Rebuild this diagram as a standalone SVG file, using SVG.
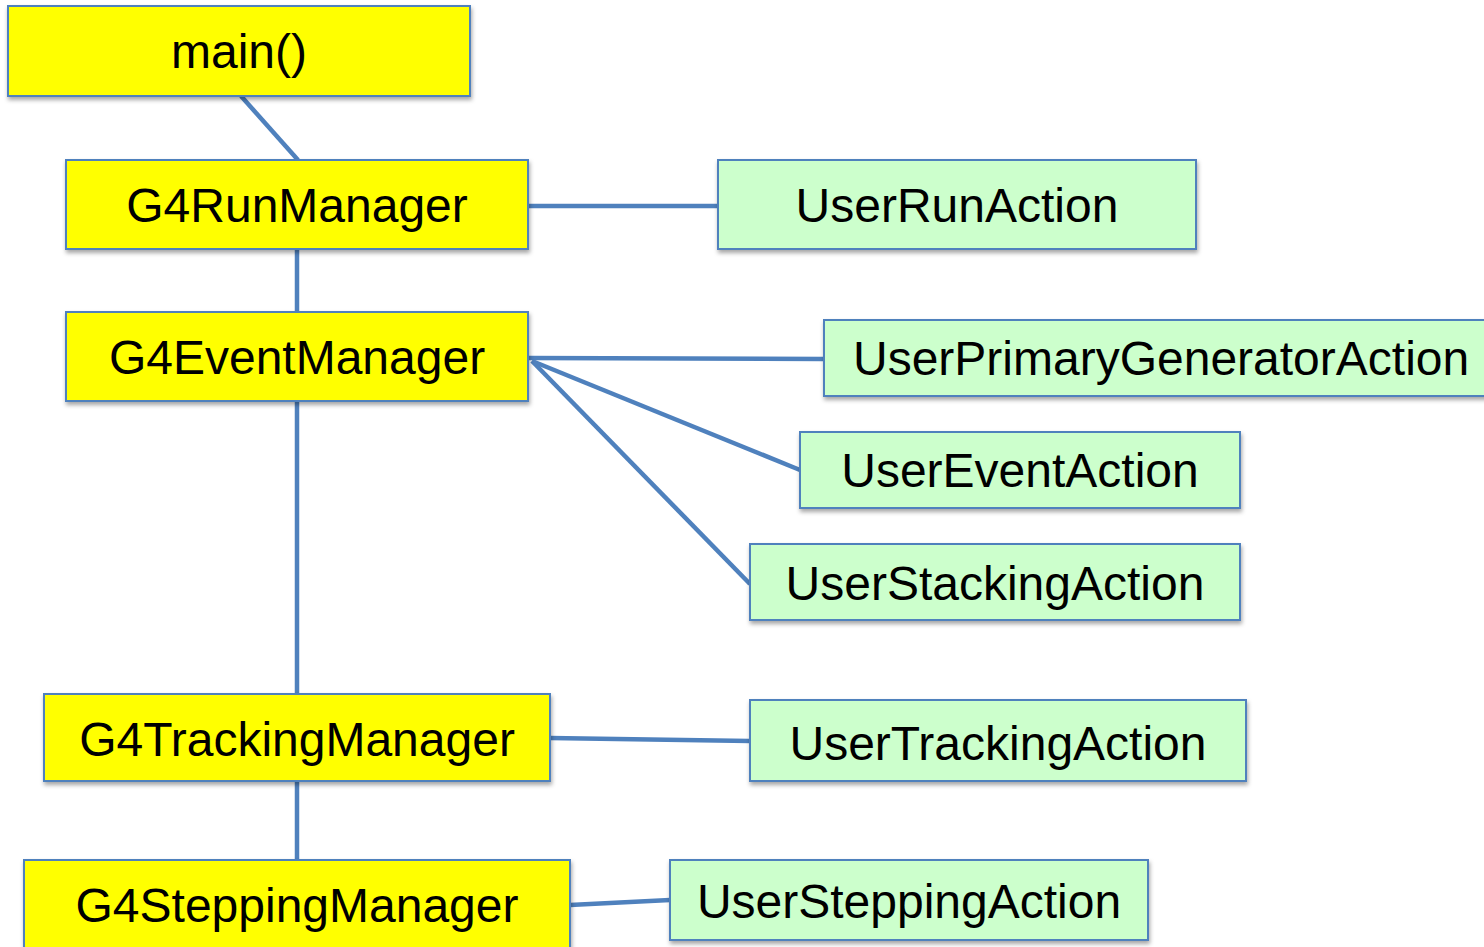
<svg xmlns="http://www.w3.org/2000/svg" width="1484" height="947" viewBox="0 0 1484 947">
<defs>
<filter id="sh" x="-10%" y="-20%" width="120%" height="150%">
<feDropShadow dx="1" dy="3" stdDeviation="2" flood-color="#000" flood-opacity="0.35"/>
</filter>
<style>
.y{fill:#FFFF00;stroke:#4F81BD;stroke-width:2;filter:url(#sh)}
.g{fill:#CCFFCC;stroke:#4F81BD;stroke-width:2;filter:url(#sh)}
.t{font-family:"Liberation Sans",Arial,sans-serif;font-size:48px;fill:#000;text-anchor:middle}
.c{stroke:#4F81BD;stroke-width:4.5;fill:none}
</style>
</defs>
<rect width="1484" height="947" fill="#fff"/>
<g id="connectors">
<line class="c" x1="241" y1="96" x2="298" y2="160"/>
<line class="c" x1="528" y1="206" x2="718" y2="206"/>
<line class="c" x1="297" y1="249" x2="297" y2="312"/>
<line class="c" x1="528" y1="358" x2="824" y2="359"/>
<line class="c" x1="532" y1="361" x2="800" y2="470"/>
<line class="c" x1="532" y1="361" x2="750" y2="584"/>
<line class="c" x1="297" y1="401" x2="297" y2="694"/>
<line class="c" x1="550" y1="738" x2="750" y2="741"/>
<line class="c" x1="297" y1="781" x2="297" y2="860"/>
<line class="c" x1="570" y1="905" x2="670" y2="900"/>
</g>
<g id="main"><rect class="y" x="8" y="6" width="462" height="90"/><text class="t" x="239" y="68">main()</text></g>
<g id="runmanager"><rect class="y" x="66" y="160" width="462" height="89"/><text class="t" x="297" y="222">G4RunManager</text></g>
<g id="eventmanager"><rect class="y" x="66" y="312" width="462" height="89"/><text class="t" x="297" y="374">G4EventManager</text></g>
<g id="trackingmanager"><rect class="y" x="44" y="694" width="506" height="87"/><text class="t" x="297" y="756">G4TrackingManager</text></g>
<g id="steppingmanager"><rect class="y" x="24" y="860" width="546" height="95"/><text class="t" x="297" y="922">G4SteppingManager</text></g>
<g id="userrunaction"><rect class="g" x="718" y="160" width="478" height="89"/><text class="t" x="957" y="222">UserRunAction</text></g>
<g id="userprimarygeneratoraction"><rect class="g" x="824" y="320" width="680" height="76"/><text class="t" x="853" y="375" style="text-anchor:start">UserPrimaryGeneratorAction</text></g>
<g id="usereventaction"><rect class="g" x="800" y="432" width="440" height="76"/><text class="t" x="1020" y="487">UserEventAction</text></g>
<g id="userstackingaction"><rect class="g" x="750" y="544" width="490" height="76"/><text class="t" x="995" y="600">UserStackingAction</text></g>
<g id="usertrackingaction"><rect class="g" x="750" y="700" width="496" height="81"/><text class="t" x="998" y="760">UserTrackingAction</text></g>
<g id="usersteppingaction"><rect class="g" x="670" y="860" width="478" height="80"/><text class="t" x="909" y="918">UserSteppingAction</text></g>
</svg>
